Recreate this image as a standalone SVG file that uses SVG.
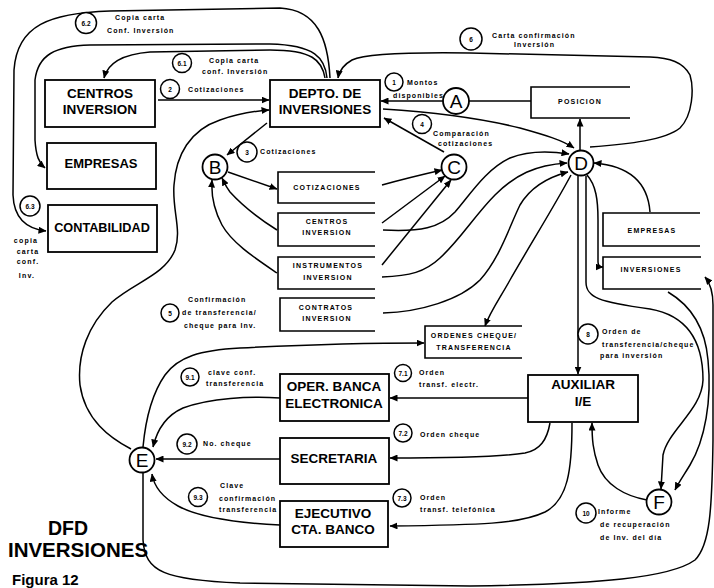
<svg xmlns="http://www.w3.org/2000/svg" width="714" height="588" viewBox="0 0 714 588">
  <style>
    .box { fill: #fff; stroke: #000; stroke-width: 1.8; }
    .st { fill: none; stroke: #000; stroke-width: 1.6; }
    .ln { fill: none; stroke: #000; stroke-width: 1.5; }
    .ar { fill: none; stroke: #000; stroke-width: 1.5; marker-end: url(#ah); }
    .big { font-family: "Liberation Sans", Arial, sans-serif; font-weight: bold; font-size: 13.5px; text-anchor: middle; fill: #000; }
    .sm { font-family: "Liberation Sans", Arial, sans-serif; font-weight: bold; font-size: 7px; letter-spacing: 1.2px; text-anchor: middle; fill: #000; }
    .lb { font-family: "Liberation Sans", Arial, sans-serif; font-weight: bold; font-size: 7px; letter-spacing: 1.1px; fill: #000; }
    .lt { font-family: "Liberation Sans", Arial, sans-serif; font-size: 19px; text-anchor: middle; fill: #000; }
    .nc { fill: #fff; stroke: #000; stroke-width: 1.8; }
    .fc { fill: #fff; stroke: #000; stroke-width: 1.5; }
    .fn { font-family: "Liberation Sans", Arial, sans-serif; font-weight: bold; font-size: 6.5px; text-anchor: middle; fill: #000; }
  </style>
  <defs>
    <marker id="ah" viewBox="0 0 8 7" refX="7.5" refY="3.5" markerWidth="8" markerHeight="7" markerUnits="userSpaceOnUse" orient="auto">
      <path d="M0,0 L8,3.5 L0,7 z" fill="#000"/>
    </marker>
  </defs>
  <rect width="714" height="588" fill="#fff"/>

  <!-- connectors -->
  <g id="connectors">
    <!-- copies of the confirmation letter -->
    <path class="ar" d="M330,78 C328,40 318,10 280,8 L110,11 C50,13 17,25 14,70 L13,195 C14,220 28,229 46,231"/>
    <path class="ar" d="M327,78 C325,58 315,45 270,44 L90,45 C55,46 38,55 35,80 L35,140 C36,156 39,163 45,168"/>
    <path class="ar" d="M325,78 C322,60 312,50 270,50 L150,52 C125,54 108,62 104,78"/>
    <!-- 6 carta confirmacion -->
    <path class="ar" d="M590,147 C630,144 665,140 680,128 C693,115 694,88 690,75 C683,62 670,58 650,57 L470,53 C400,52 365,54 352,60 C343,65 339,72 338,78"/>
    <!-- 2 cotizaciones -->
    <path class="ar" d="M158,100 L269,100"/>
    <!-- posicion / A / depto -->
    <path class="ln" d="M468,101 L531,101"/>
    <path class="ar" d="M443,101 L381,101"/>
    <path class="ar" d="M580,150 L580,119"/>
    <!-- depto to D -->
    <path class="ar" d="M383,109 C430,112 480,118 520,128 C545,135 562,140 574,148"/>
    <!-- 4 comparacion -->
    <path class="ar" d="M444,152 L384,118"/>
    <!-- 3 cotizaciones -->
    <path class="ar" d="M267,123 L227,155"/>
    <path class="ar" d="M228,172 L277,189"/>
    <path class="ar" d="M277,230 C258,218 240,203 230,192 C226,187 224,182 222,178"/>
    <path class="ar" d="M277,273 C255,258 232,243 222,225 C214,210 211,195 212,180"/>
    <!-- stores to C -->
    <path class="ar" d="M382,185 C400,180 420,175 442,170"/>
    <path class="ar" d="M382,223 L445,176"/>
    <path class="ar" d="M382,265 L451,180"/>
    <!-- stores to D -->
    <path class="ar" d="M383,230 C420,232 440,228 455,212 C470,195 485,170 510,158 C530,150 550,151 569,154"/>
    <path class="ar" d="M382,277 C410,276 425,272 440,258 C460,240 475,215 495,195 C515,175 535,165 567,163"/>
    <path class="ar" d="M383,313 C420,312 460,300 480,280 C500,258 510,225 520,205 C530,188 545,178 568,172"/>
    <path class="ar" d="M650,212 C648,185 632,166 594,163"/>
    <!-- D outgoing -->
    <path class="ar" d="M571,175 C555,205 530,245 510,280 C500,298 490,312 485,326"/>
    <path class="ar" d="M578,176 L578,374"/>
    <path class="ar" d="M587,175 C596,185 598,200 598,220 L598,262 C598,265 599,267 603,267"/>
    <path class="ar" d="M586,176 L586,282 C586,298 600,302 650,309 C690,316 703,345 703,380 C702,410 668,430 663,455 L661,489"/>
    <path class="ar" d="M668,292 C690,305 705,325 708,360 C712,400 705,440 690,465 C684,475 679,482 675,490"/>
    <!-- 10 informe -->
    <path class="ar" d="M647,500 C625,496 605,485 598,465 C593,450 592,440 592,423"/>
    <!-- 7.x ordenes -->
    <path class="ar" d="M528,398 L390,398"/>
    <path class="ar" d="M550,423 C547,440 540,450 525,453 C500,457 460,458 390,458"/>
    <path class="ar" d="M572,423 C572,470 568,500 545,512 C520,524 480,525 390,526"/>
    <!-- 9.x claves to E -->
    <path class="ar" d="M280,398 C250,396 210,398 183,408 C165,416 157,430 153,447"/>
    <path class="ar" d="M280,459 L156,459"/>
    <path class="ar" d="M280,525 C240,523 200,518 178,506 C162,497 154,487 152,474"/>
    <!-- E outgoing -->
    <path class="ar" d="M131,449 C110,438 85,420 80,385 C77,355 88,325 112,302 C135,282 165,275 175,250 C182,230 172,210 174,185 C176,155 190,130 220,120 C240,113 255,111 269,110"/>
    <path class="ar" d="M143,447 C146,415 153,392 165,375 C178,357 200,350 240,348 C300,345 360,343 424,343"/>
    <path class="ar" d="M143,473 L143,540 C145,572 165,580 240,583 L470,586 C600,584 670,578 695,560 C710,545 712,510 713,440 L713,305 C713,292 710,283 705,277"/>
  </g>

  <!-- processes and externals -->
  <g id="centros-inversion">
    <rect class="box" x="45" y="80" width="110" height="47"/>
    <text class="big" x="100" y="98">CENTROS</text>
    <text class="big" x="100" y="114">INVERSION</text>
  </g>
  <g id="empresas">
    <rect class="box" x="47" y="143" width="109" height="46"/>
    <text class="big" x="101" y="168" style="font-size:13px">EMPRESAS</text>
  </g>
  <g id="contabilidad">
    <rect class="box" x="48" y="205" width="109" height="47"/>
    <text class="big" x="102" y="232" style="font-size:12.7px">CONTABILIDAD</text>
  </g>
  <g id="depto-inversiones">
    <rect class="box" x="270" y="80" width="110" height="47"/>
    <text class="big" x="325" y="98">DEPTO. DE</text>
    <text class="big" x="325" y="114">INVERSIONES</text>
  </g>
  <g id="oper-banca">
    <rect class="box" x="280" y="374" width="109" height="47"/>
    <text class="big" x="334" y="391">OPER. BANCA</text>
    <text class="big" x="334" y="408">ELECTRONICA</text>
  </g>
  <g id="secretaria">
    <rect class="box" x="280" y="438" width="109" height="46"/>
    <text class="big" x="334" y="463">SECRETARIA</text>
  </g>
  <g id="ejecutivo">
    <rect class="box" x="280" y="501" width="108" height="46"/>
    <text class="big" x="333" y="518">EJECUTIVO</text>
    <text class="big" x="333" y="534">CTA. BANCO</text>
  </g>
  <g id="auxiliar">
    <rect class="box" x="528" y="375" width="110" height="47"/>
    <text class="big" x="583" y="389">AUXILIAR</text>
    <text class="big" x="583" y="406">I/E</text>
  </g>

  <!-- data stores -->
  <g id="posicion">
    <path class="st" d="M630,87 L531,87 L531,118 L630,118"/>
    <text class="sm" x="580" y="104">POSICION</text>
  </g>
  <g id="cotizaciones">
    <path class="st" d="M375,172 L278,172 L278,203 L375,203"/>
    <text class="sm" x="327" y="190">COTIZACIONES</text>
  </g>
  <g id="centros-store">
    <path class="st" d="M375,213 L278,213 L278,246 L375,246"/>
    <text class="sm" x="327" y="224">CENTROS</text>
    <text class="sm" x="327" y="235">INVERSION</text>
  </g>
  <g id="instrumentos">
    <path class="st" d="M375,257 L278,257 L278,289 L375,289"/>
    <text class="sm" x="328" y="268">INSTRUMENTOS</text>
    <text class="sm" x="328" y="280">INVERSION</text>
  </g>
  <g id="contratos">
    <path class="st" d="M375,298 L280,298 L280,331 L375,331"/>
    <text class="sm" x="326" y="310">CONTRATOS</text>
    <text class="sm" x="327" y="321">INVERSION</text>
  </g>
  <g id="ordenes">
    <path class="st" d="M522,326 L425,326 L425,358 L522,358"/>
    <text class="sm" x="474" y="338">ORDENES CHEQUE/</text>
    <text class="sm" x="474" y="350">TRANSFERENCIA</text>
  </g>
  <g id="empresas-store">
    <path class="st" d="M700,213 L603,213 L603,246 L700,246"/>
    <text class="sm" x="652" y="233">EMPRESAS</text>
  </g>
  <g id="inversiones-store">
    <path class="st" d="M701,257 L603,257 L603,289 L701,289"/>
    <text class="sm" x="651" y="272">INVERSIONES</text>
  </g>

  <!-- connector points -->
  <g id="A"><circle class="nc" cx="456" cy="101" r="13"/><text class="lt" x="456" y="108">A</text></g>
  <g id="B"><circle class="nc" cx="215" cy="167" r="12.5"/><text class="lt" x="215" y="174">B</text></g>
  <g id="C"><circle class="nc" cx="454" cy="167" r="12.5"/><text class="lt" x="454" y="174">C</text></g>
  <g id="D"><circle class="nc" cx="581" cy="163" r="12.5"/><text class="lt" x="581" y="170">D</text></g>
  <g id="E"><circle class="nc" cx="142" cy="460" r="12.5"/><text class="lt" x="142" y="467">E</text></g>
  <g id="F"><circle class="nc" cx="659" cy="502" r="12.5"/><text class="lt" x="659" y="509">F</text></g>

  <!-- flow labels -->
  <g id="flow-labels">
    <circle class="fc" cx="86" cy="23" r="10.5"/><text class="fn" x="86" y="25.5">6.2</text>
    <text class="lb" x="115" y="20">Copia carta</text>
    <text class="lb" x="107" y="33">Conf. Inversión</text>

    <circle class="fc" cx="182" cy="63" r="9.5"/><text class="fn" x="182" y="65.5">6.1</text>
    <text class="lb" x="209" y="63">Copia carta</text>
    <text class="lb" x="202" y="74">conf. Inversión</text>

    <circle class="fc" cx="170" cy="89" r="9.5"/><text class="fn" x="170" y="91.5">2</text>
    <text class="lb" x="188" y="92">Cotizaciones</text>

    <circle class="fc" cx="394" cy="82" r="9"/><text class="fn" x="394" y="84.5">1</text>
    <text class="lb" x="407" y="85">Montos</text>
    <text class="lb" x="393" y="98">disponibles</text>

    <circle class="fc" cx="422" cy="124" r="9.5"/><text class="fn" x="422" y="126.5">4</text>
    <text class="lb" x="433" y="136">Comparación</text>
    <text class="lb" x="438" y="146">cotizaciones</text>

    <circle class="fc" cx="247" cy="152" r="10"/><text class="fn" x="247" y="154.5">3</text>
    <text class="lb" x="260" y="154">Cotizaciones</text>

    <circle class="fc" cx="471" cy="39" r="11"/><text class="fn" x="471" y="41.5">6</text>
    <text class="lb" x="492" y="38">Carta confirmación</text>
    <text class="lb" x="514" y="47">Inversión</text>

    <circle class="fc" cx="30" cy="206" r="10"/><text class="fn" x="30" y="208.5">6.3</text>
    <text class="sm" x="26" y="243">copia</text>
    <text class="sm" x="28" y="254">carta</text>
    <text class="sm" x="28" y="264">conf.</text>
    <text class="sm" x="27" y="278">Inv.</text>

    <circle class="fc" cx="170" cy="313" r="9"/><text class="fn" x="170" y="315.5">5</text>
    <text class="lb" x="188" y="302">Confirmación</text>
    <text class="lb" x="182" y="315">de transferencia/</text>
    <text class="lb" x="184" y="328">cheque para Inv.</text>

    <circle class="fc" cx="588" cy="334" r="10"/><text class="fn" x="588" y="336.5">8</text>
    <text class="lb" x="602" y="334">Orden de</text>
    <text class="lb" x="602" y="347">transferencia/cheque</text>
    <text class="lb" x="600" y="358">para inversión</text>

    <circle class="fc" cx="190" cy="377" r="9"/><text class="fn" x="190" y="379.5">9.1</text>
    <text class="lb" x="208" y="375">clave conf.</text>
    <text class="lb" x="206" y="386">transferencia</text>

    <circle class="fc" cx="187" cy="444" r="10"/><text class="fn" x="187" y="446.5">9.2</text>
    <text class="lb" x="203" y="446">No. cheque</text>

    <circle class="fc" cx="198" cy="497" r="9.5"/><text class="fn" x="198" y="499.5">9.3</text>
    <text class="lb" x="220" y="488">Clave</text>
    <text class="lb" x="219" y="501">confirmación</text>
    <text class="lb" x="219" y="512">transferencia</text>

    <circle class="fc" cx="403" cy="373" r="8.5"/><text class="fn" x="403" y="375.5">7.1</text>
    <text class="lb" x="419" y="375">Orden</text>
    <text class="lb" x="419" y="387">transf. electr.</text>

    <circle class="fc" cx="403" cy="433" r="9"/><text class="fn" x="403" y="435.5">7.2</text>
    <text class="lb" x="420" y="437">Orden cheque</text>

    <circle class="fc" cx="402" cy="498" r="9"/><text class="fn" x="402" y="500.5">7.3</text>
    <text class="lb" x="420" y="500">Orden</text>
    <text class="lb" x="420" y="512">transf. telefónica</text>

    <circle class="fc" cx="586" cy="513" r="10"/><text class="fn" x="586" y="515.5">10</text>
    <text class="lb" x="598" y="514">Informe</text>
    <text class="lb" x="600" y="527">de recuperación</text>
    <text class="lb" x="600" y="540">de Inv. del día</text>
  </g>

  <!-- title -->
  <g id="title">
    <text x="68" y="535" style="font-family:'Liberation Sans',Arial,sans-serif;font-weight:bold;font-size:19.5px;text-anchor:middle">DFD</text>
    <text x="78" y="557" style="font-family:'Liberation Sans',Arial,sans-serif;font-weight:bold;font-size:20.5px;text-anchor:middle">INVERSIONES</text>
    <text x="12" y="585" style="font-family:'Liberation Sans',Arial,sans-serif;font-weight:bold;font-size:15px">Figura 12</text>
  </g>
</svg>
